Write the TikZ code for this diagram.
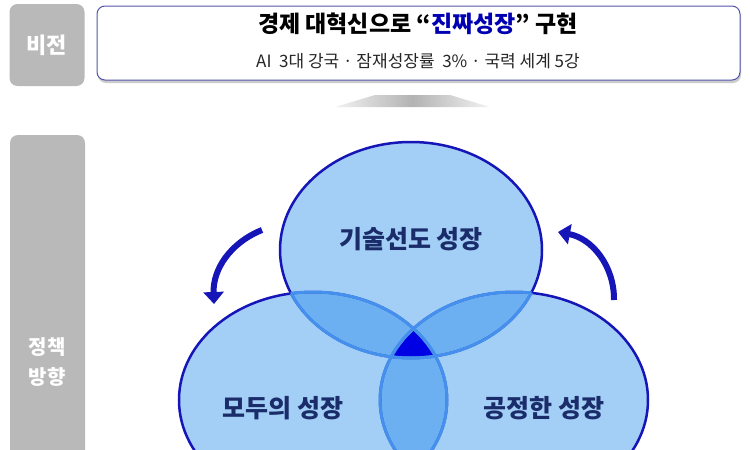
\documentclass[tikz,border=0pt]{standalone}
\usepackage{fontspec}
\newfontfamily\kr{Noto Sans CJK KR}
\newfontfamily\krb{Noto Sans CJK KR}[UprightFont={* Black}]
\usetikzlibrary{shadows,arrows.meta}
\definecolor{lb}{HTML}{A3CFF7}
\definecolor{mb}{HTML}{6CB0F2}
\definecolor{db}{HTML}{1515B8}
\definecolor{ln}{HTML}{4590EC}
\definecolor{tx}{HTML}{1A2D6A}
\begin{document}
\begin{tikzpicture}[x=1pt,y=-1pt,
  graybar/.style={fill=gray!55,rounded corners=8pt,draw=none},
  venntxt/.style={font=\krb\fontsize{25}{28}\selectfont,text=tx},
  carrow/.style={db,line width=6pt,-{Triangle[length=12pt,width=20pt]}}]
\useasboundingbox (0,0) rectangle (750,450);
\fill[white] (0,0) rectangle (750,450);
% gray side bars
\node[graybar,minimum width=75pt,minimum height=82pt] (bv) at (47,45) {};
\node[text=white,font=\krb\fontsize{22}{26}\selectfont] (lv) at (bv) {비전};
\fill[gray!55,rounded corners=8pt] (10,135) rectangle (85,470);
\node[text=white,font=\krb\fontsize{20}{30}\selectfont,align=center] (lp) at (47,362) {정책\\방향};
% vision box
\node[draw=blue!35!gray,line width=1pt,fill=white,rounded corners=8pt,minimum width=643pt,minimum height=74pt,
  drop shadow={shadow xshift=1pt,shadow yshift=-3pt,opacity=0.4}] (vb) at (418.5,43) {};
\node[font=\krb\fontsize{23}{26}\selectfont] (t1) at (418,24) {경제 대혁신으로 “\textcolor{blue!70!black}{진짜성장}” 구현};
\node[font=\kr\fontsize{17}{20}\selectfont,text=black!85] (t2) at (418,61) {AI\ \ 3대 강국 · 잠재성장률\ \ 3\% · 국력 세계 5강};
% gray up arrow
\shade[left color=gray!10,right color=gray!10,middle color=gray!60] (335,107) -- (375,95) -- (450,95) -- (490,107) -- cycle;
% venn
\def\A{(411,250) ellipse [x radius=131,y radius=108]}
\def\B{(313,400) ellipse [x radius=134,y radius=108]}
\def\C{(514,400) ellipse [x radius=134,y radius=108]}
\fill[lb] \A; \fill[lb] \B; \fill[lb] \C;
\begin{scope}\clip \A; \fill[mb] \B; \fill[mb] \C; \end{scope}
\begin{scope}\clip \B; \fill[mb] \C; \end{scope}
\begin{scope}\clip \A; \clip \B; \fill[blue!90!black] \C; \end{scope}
\draw[db,line width=2.5pt] \A; \draw[db,line width=2.5pt] \B; \draw[db,line width=2.5pt] \C;
\begin{scope}\clip \A; \draw[ln,line width=3pt] \B; \draw[ln,line width=3pt] \C; \end{scope}
\begin{scope}\clip \B; \draw[ln,line width=3pt] \A; \draw[ln,line width=3pt] \C; \end{scope}
\begin{scope}\clip \C; \draw[ln,line width=3pt] \A; \draw[ln,line width=3pt] \B; \end{scope}
\node[venntxt] (n1) at (411,239) {기술선도 성장};
\node[venntxt] (n2) at (283,408) {모두의 성장};
\node[venntxt] (n3) at (544,408) {공정한 성장};
% curved arrows
\coordinate (a1) at (262,230); \coordinate (a2) at (214,304);
\coordinate (b1) at (614,300); \coordinate (b2) at (558,232);
\draw[carrow] (a1) to[bend right=35] (a2);
\draw[carrow] (b1) to[bend right=40] (b2);
\end{tikzpicture}
\end{document}
